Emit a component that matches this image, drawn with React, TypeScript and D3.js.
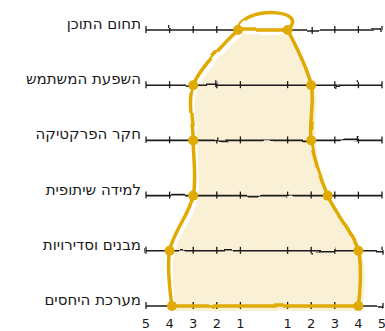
import React from 'react';
import * as d3 from 'd3';

// categories top to bottom
const categories = [
  'תחום התוכן',
  'השפעת המשתמש',
  'חקר הפרקטיקה',
  'למידה שיתופית',
  'מבנים וסדירויות',
  'מערכת היחסים',
];
const leftValues = [1.1, 3, 3, 3, 4, 3.9];
const rightValues = [1, 2, 2, 2.7, 4, 4];
const tickValues = [1, 2, 3, 4, 5];

const W = 385;
const H = 331;
const gold = '#e0aa05';
const cream = '#faf0d6';
const ink = '#1a1a1a';

export default function App() {
  const x = d3.scaleLinear().domain([-5, 5]).range([146, 382]);
  const y = d3.scalePoint<string>().domain(categories).range([30, 306]);

  const leftPts: [number, number][] = categories.map((c, i) => [x(-leftValues[i]), y(c)!]);
  const rightPts: [number, number][] = categories.map((c, i) => [x(rightValues[i]), y(c)!]);

  const side = d3.line().curve(d3.curveCatmullRom.alpha(0.5));
  // fill: left side down, straight across the bottom, right side up, closed along the top
  const fillPath = side(leftPts)! + side(rightPts.slice().reverse())!.replace(/^M/, 'L') + 'Z';

  const top = leftPts[0];
  const topR = rightPts[0];
  const loop = `M${top[0]},${top[1] - 1} C${top[0] + 3},${top[1] - 24} ${topR[0] + 24},${topR[1] - 22} ${topR[0]},${topR[1]}`;
  const bottomL = leftPts[leftPts.length - 1];
  const bottomR = rightPts[rightPts.length - 1];

  const ticks = [...tickValues.map((t) => -t), ...tickValues];
  const font = '"DejaVu Sans", "Liberation Sans", sans-serif';

  return (
    <svg width={W} height={H} style={{ position: 'absolute', left: 0, top: 0 }}>
      <defs>
        <filter id="sketch" x="-5%" y="-5%" width="110%" height="110%">
          <feTurbulence type="fractalNoise" baseFrequency="0.03" numOctaves={2} seed={3} />
          <feDisplacementMap in="SourceGraphic" scale={3} />
        </filter>
      </defs>
      <rect width={W} height={H} fill="white" />

      {/* cream fill, a little off the outline like a hand colouring */}
      <path d={fillPath} transform="translate(4,5)" fill={cream} filter="url(#sketch)" />

      {/* centre axis */}
      <line x1={x(0)} x2={x(0)} y1={4} y2={316} stroke={ink} strokeWidth={1.5} filter="url(#sketch)" />

      {/* row axes with ticks */}
      {categories.map((c) => (
        <g key={c} filter="url(#sketch)">
          <line x1={x(-5)} x2={x(5)} y1={y(c)} y2={y(c)} stroke={ink} strokeWidth={1.6} />
          {ticks.map((t) => (
            <line key={t} x1={x(t)} x2={x(t)} y1={y(c)! - 4} y2={y(c)! + 3} stroke={ink} strokeWidth={1.3} />
          ))}
        </g>
      ))}

      {/* labels */}
      {categories.map((c) => (
        <text key={c} x={141} y={y(c)! - 1} textAnchor="end" fontFamily={font} fontSize={15} fill={ink}>
          {c}
        </text>
      ))}

      {/* bottom tick labels */}
      {ticks.map((t) => (
        <text key={t} x={x(t)} y={328} textAnchor="middle" fontFamily={font} fontSize={13} fill={ink}>
          {Math.abs(t)}
        </text>
      ))}

      {/* outline */}
      <g fill="none" stroke={gold} strokeWidth={3.5} strokeLinecap="round" strokeLinejoin="round" filter="url(#sketch)">
        <path d={side(leftPts)!} />
        <path d={side(rightPts)!} />
        <line x1={top[0]} y1={top[1]} x2={topR[0]} y2={topR[1]} />
        <line x1={bottomL[0]} y1={bottomL[1]} x2={bottomR[0]} y2={bottomR[1]} />
        <path d={loop} />
      </g>

      {/* points */}
      {[...leftPts, ...rightPts].map((p, i) => (
        <circle key={i} cx={p[0]} cy={p[1]} r={5} fill={gold} />
      ))}
    </svg>
  );
}
